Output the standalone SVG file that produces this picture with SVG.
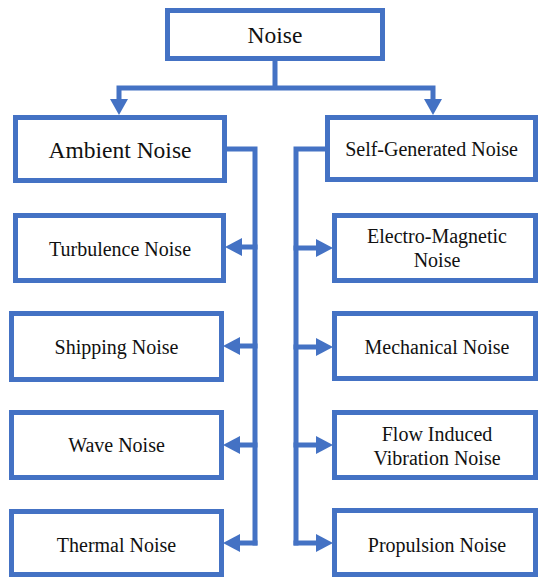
<svg xmlns="http://www.w3.org/2000/svg" width="541" height="578" viewBox="0 0 541 578">
  <style>
    .box { fill: #ffffff; stroke: #4472C4; stroke-width: 5; }
    .wire { fill: none; stroke: #4472C4; stroke-width: 5; stroke-linejoin: miter; }
    .head { fill: #4472C4; }
    .lbl { font-family: 'Liberation Serif', serif !important; fill: #111111; text-anchor: middle; }
    .big { font-size: 23.5px; }
    .small { font-size: 20px; }
  </style>
  <rect width="541" height="578" fill="#ffffff"/>

  <g id="connectors">
    <!-- root split -->
    <path class="wire" d="M275,61 V88 M116.5,88 H435.5 M119,88 V100 M433,88 V100"/>
    <polygon class="head" points="110,99 128,99 119,115"/>
    <polygon class="head" points="424,99 442,99 433,115"/>
    <!-- ambient bus -->
    <path class="wire" d="M226,149 H255 V545.5"/>
    <path class="wire" d="M257.5,247 H240 M257.5,346 H240 M257.5,445 H240 M257.5,543 H240"/>
    <polygon class="head" points="225,247 242,238 242,256"/>
    <polygon class="head" points="223,346 240,337 240,355"/>
    <polygon class="head" points="223,445 240,436 240,454"/>
    <polygon class="head" points="223,543 240,534 240,552"/>
    <!-- self-generated bus -->
    <path class="wire" d="M327,149 H296 V545.5"/>
    <path class="wire" d="M293.5,248 H318 M293.5,347 H318 M293.5,445 H318 M293.5,543 H318"/>
    <polygon class="head" points="333,248 316,239 316,257"/>
    <polygon class="head" points="333,347 316,338 316,356"/>
    <polygon class="head" points="333,445 316,436 316,454"/>
    <polygon class="head" points="333,543 316,534 316,552"/>
  </g>

  <g id="noise">
    <rect class="box" x="167.5" y="10.5" width="215" height="48"/>
    <text class="lbl big" style="font-family:'Liberation Serif',serif" x="275" y="43">Noise</text>
  </g>

  <g id="ambient">
    <rect class="box" x="15.5" y="117.5" width="209" height="63"/>
    <text class="lbl big" style="font-family:'Liberation Serif',serif" x="120" y="158">Ambient Noise</text>
  </g>
  <g id="turbulence">
    <rect class="box" x="15.5" y="215.5" width="208" height="65"/>
    <text class="lbl small" style="font-family:'Liberation Serif',serif" x="120" y="256">Turbulence Noise</text>
  </g>
  <g id="shipping">
    <rect class="box" x="11.5" y="313.5" width="210" height="66"/>
    <text class="lbl small" style="font-family:'Liberation Serif',serif" x="116.5" y="354">Shipping Noise</text>
  </g>
  <g id="wave">
    <rect class="box" x="11.5" y="412.5" width="210" height="65"/>
    <text class="lbl small" style="font-family:'Liberation Serif',serif" x="116.5" y="452">Wave Noise</text>
  </g>
  <g id="thermal">
    <rect class="box" x="11.5" y="511.5" width="210" height="63"/>
    <text class="lbl small" style="font-family:'Liberation Serif',serif" x="116.5" y="552">Thermal Noise</text>
  </g>

  <g id="self-generated">
    <rect class="box" x="327.5" y="117.5" width="208" height="62"/>
    <text class="lbl small" style="font-family:'Liberation Serif',serif" x="431.5" y="156">Self-Generated Noise</text>
  </g>
  <g id="electro-magnetic">
    <rect class="box" x="334.5" y="215.5" width="201" height="65"/>
    <text class="lbl small" style="font-family:'Liberation Serif',serif" x="437" y="243">Electro-Magnetic</text>
    <text class="lbl small" style="font-family:'Liberation Serif',serif" x="437" y="267">Noise</text>
  </g>
  <g id="mechanical">
    <rect class="box" x="334.5" y="313.5" width="201" height="65"/>
    <text class="lbl small" style="font-family:'Liberation Serif',serif" x="437" y="354">Mechanical Noise</text>
  </g>
  <g id="flow-induced">
    <rect class="box" x="334.5" y="412.5" width="201" height="65"/>
    <text class="lbl small" style="font-family:'Liberation Serif',serif" x="437" y="441">Flow Induced</text>
    <text class="lbl small" style="font-family:'Liberation Serif',serif" x="437" y="465">Vibration Noise</text>
  </g>
  <g id="propulsion">
    <rect class="box" x="334.5" y="510.5" width="201" height="64"/>
    <text class="lbl small" style="font-family:'Liberation Serif',serif" x="437" y="552">Propulsion Noise</text>
  </g>
</svg>
